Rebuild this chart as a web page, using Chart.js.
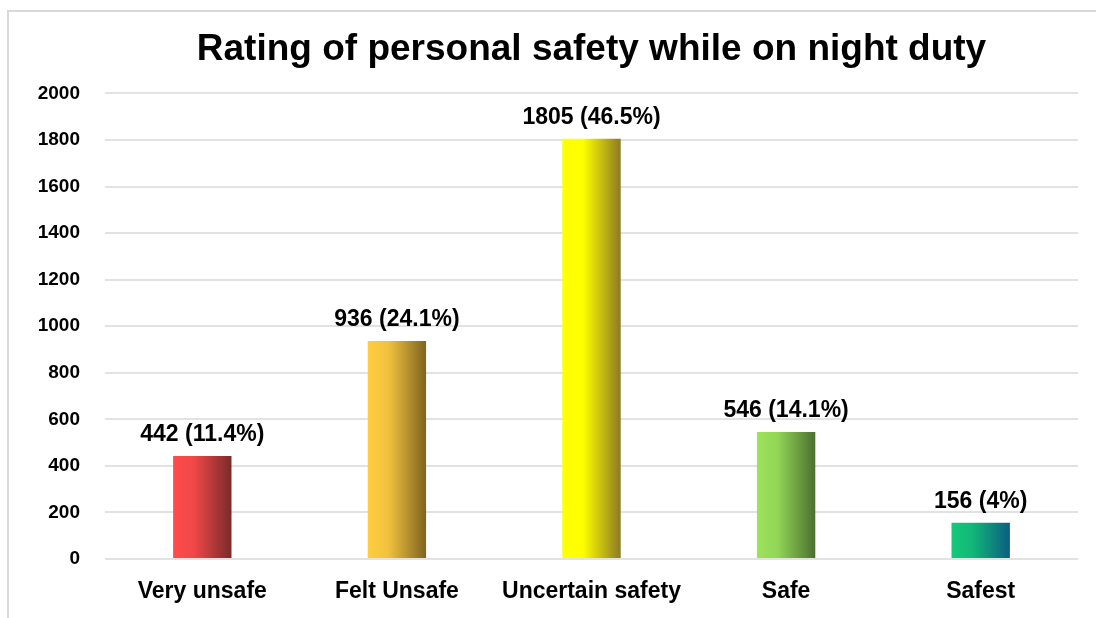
<!DOCTYPE html>
<html>
<head>
<meta charset="utf-8">
<script src="https://cdn.jsdelivr.net/npm/chart.js@4/dist/chart.umd.min.js"></script>
<style>
  body { margin: 0; background: #fff; }
  #wrap { position: relative; width: 1096px; height: 618px; }
  #frame { position: absolute; left: 7px; top: 10px; width: 1100px; height: 620px; border: 2px solid #d9d9d9; box-sizing: border-box; }
  canvas { position: absolute; left: 0; top: 0; }
</style>
</head>
<body>
<div id="wrap">
  <div id="frame"></div>
  <canvas id="safety" width="1096" height="618"></canvas>
</div>
<script>
const categories = ["Very unsafe", "Felt Unsafe", "Uncertain safety", "Safe", "Safest"];
const counts = [442, 936, 1805, 546, 156];
const shares = ["11.4%", "24.1%", "46.5%", "14.1%", "4%"];
const yTicks = [0, 200, 400, 600, 800, 1000, 1200, 1400, 1600, 1800, 2000];

// left (light) to right (dark) colour of each bar
const barColors = [
  ["#FF4B4B", "#F04848", "#7A2A2A"],
  ["#FFCC40", "#F2C23E", "#7F6420"],
  ["#FFFF00", "#FFFF00", "#8C7A24"],
  ["#9CE35A", "#92D656", "#4C7030"],
  ["#16C878", "#12B878", "#0A5E80"]
];

const font = "'Liberation Sans', Arial, sans-serif";

function barFill(c) {
  const chart = c.chart;
  const stops = barColors[c.dataIndex];
  if (!chart.chartArea || !chart.scales.x) return stops[0];
  const x = chart.scales.x.getPixelForValue(c.dataIndex);
  const w = chart.chartArea.width / categories.length * 0.3;
  const g = chart.ctx.createLinearGradient(x - w / 2, 0, x + w / 2, 0);
  g.addColorStop(0, stops[0]);
  g.addColorStop(0.35, stops[1]);
  g.addColorStop(1, stops[2]);
  return g;
}

const valueLabels = {
  id: "valueLabels",
  afterDatasetsDraw(chart) {
    const ctx = chart.ctx;
    const meta = chart.getDatasetMeta(0);
    ctx.save();
    ctx.font = "bold 23px " + font;
    ctx.fillStyle = "#000";
    ctx.textAlign = "center";
    ctx.textBaseline = "alphabetic";
    meta.data.forEach((bar, i) => {
      ctx.fillText(counts[i] + " (" + shares[i] + ")", bar.x, bar.y - 15);
    });
    ctx.restore();
  }
};

new Chart(document.getElementById("safety"), {
  type: "bar",
  data: {
    labels: categories,
    datasets: [{
      data: counts,
      backgroundColor: barFill,
      borderWidth: 0,
      categoryPercentage: 1,
      barPercentage: 0.3
    }]
  },
  options: {
    responsive: false,
    animation: false,
    layout: { padding: { left: 8, right: 18, top: 10, bottom: 0 } },
    plugins: {
      legend: { display: false },
      tooltip: { enabled: false },
      title: {
        display: true,
        fullSize: false,
        text: "Rating of personal safety while on night duty",
        color: "#000",
        font: { family: font, size: 37, weight: "bold" },
        padding: { top: 18, bottom: 21 }
      }
    },
    scales: {
      x: {
        grid: { display: false },
        border: { display: false },
        ticks: {
          color: "#000",
          padding: 11,
          font: { family: font, size: 23, weight: "bold" }
        },
        afterFit(scale) { scale.height = 59; }
      },
      y: {
        min: 0,
        max: 2000,
        afterBuildTicks(scale) { scale.ticks = yTicks.map(v => ({ value: v })); },
        grid: { color: "#e2e2e2", lineWidth: 2, drawTicks: false },
        border: { display: false },
        ticks: {
          color: "#000",
          padding: 25,
          callback: v => String(v),
          font: { family: font, size: 19, weight: "bold" }
        },
        afterFit(scale) { scale.width = 97; }
      }
    }
  },
  plugins: [valueLabels]
});
</script>
</body>
</html>
